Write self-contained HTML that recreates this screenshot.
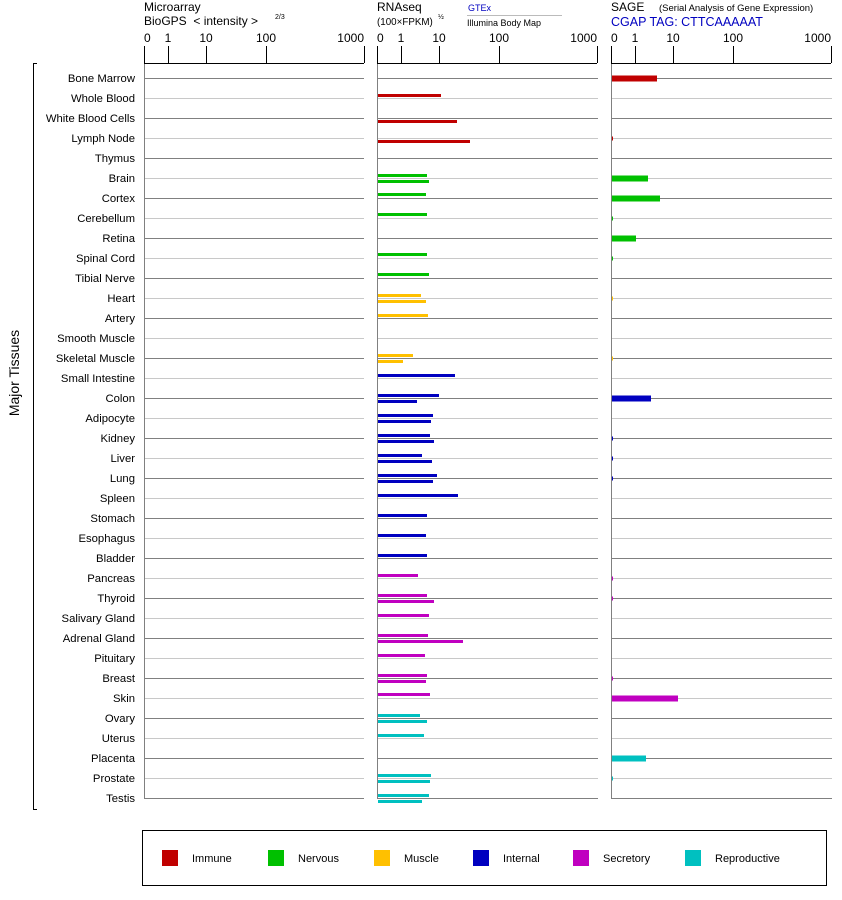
<!DOCTYPE html>
<html><head><meta charset="utf-8"><style>
body{margin:0;background:#fff}
svg{display:block;font-family:"Liberation Sans",Arial,sans-serif}
</style></head><body>
<svg id="s" width="842" height="900" xmlns="http://www.w3.org/2000/svg"></svg>
<script>
const C={R:"#c00000",G:"#00c000",Y:"#ffc000",B:"#0000c0",M:"#c000c0",T:"#00c0c0"};
const rows=[
["Bone Marrow","R",[],657],["Whole Blood","R",[[-3,441]],0],["White Blood Cells","R",[[3,457]],0],["Lymph Node","R",[[3,470]],613],
["Thymus","R",[],0],["Brain","G",[[-3,427],[3,429]],648],["Cortex","G",[[-4,426]],660],["Cerebellum","G",[[-4,427]],613],
["Retina","G",[],636],["Spinal Cord","G",[[-4,427]],613],["Tibial Nerve","G",[[-4,429]],0],["Heart","Y",[[-3,421],[3,426]],613],
["Artery","Y",[[-3,428]],0],["Smooth Muscle","Y",[],0],["Skeletal Muscle","Y",[[-3,413],[3,403]],613],["Small Intestine","B",[[-3,455]],0],
["Colon","B",[[-3,439],[3,417]],651],["Adipocyte","B",[[-3,433],[3,431]],0],["Kidney","B",[[-3,430],[3,434]],613],["Liver","B",[[-3,422],[3,432]],613],
["Lung","B",[[-3,437],[3,433]],613],["Spleen","B",[[-3,458]],0],["Stomach","B",[[-3,427]],0],["Esophagus","B",[[-3,426]],0],
["Bladder","B",[[-3,427]],0],["Pancreas","M",[[-3,418]],613],["Thyroid","M",[[-3,427],[3,434]],613],["Salivary Gland","M",[[-3,429]],0],
["Adrenal Gland","M",[[-3,428],[3,463]],0],["Pituitary","M",[[-3,425]],0],["Breast","M",[[-3,427],[3,426]],613],["Skin","M",[[-4,430]],678],
["Ovary","T",[[-3,420],[3,427]],0],["Uterus","T",[[-3,424]],0],["Placenta","T",[],646],["Prostate","T",[[-3,431],[3,430]],613],["Testis","T",[[-3,429],[3,422]],0]];
let h="";
const P=[144,377,611],W=[220,221,221];
rows.forEach((r,i)=>{const y=78+20*i;const col=i%2==0?"#808080":"#c8c8c8";
 h+=`<text x="135" y="${y+4}" font-size="11.3" text-anchor="end">${r[0]}</text>`;
 P.forEach((p,k)=>h+=`<line x1="${p}" x2="${p+W[k]}" y1="${y+.5}" y2="${y+.5}" stroke="${col}"/>`);
 r[2].forEach(b=>h+=`<rect x="378" y="${y+b[0]-1}" width="${b[1]-378}" height="3" fill="${C[r[1]]}"/>`);
 if(r[3]){const big=r[3]>620;h+=`<rect x="612" y="${y-(big?2.5:1.5)}" width="${r[3]-612}" height="${big?6:4}" fill="${C[r[1]]}"/>`;}
});
P.forEach(p=>{
 h+=`<line x1="${p+.5}" x2="${p+.5}" y1="63" y2="799" stroke="#808080"/>`;
 h+=`<line x1="${p}" x2="${p+220}" y1="63.5" y2="63.5" stroke="#000"/>`;
 [[0,"0"],[24,"1"],[62,"10"],[122,"100"],[220,"1000"]].forEach(t=>{
  h+=`<line x1="${p+t[0]+.5}" x2="${p+t[0]+.5}" y1="46" y2="63" stroke="#000"/>`;
  h+=`<text x="${p+t[0]}" y="42" font-size="12" text-anchor="${t[1]=="0"?"start":t[1]=="1000"?"end":"middle"}">${t[1]}</text>`;});
});
h+=`<text x="144" y="11" font-size="12">Microarray</text><text x="144" y="25" font-size="12">BioGPS &#160;&lt; intensity &gt;</text><text x="275" y="19" font-size="7">2/3</text>`;
h+=`<text x="377" y="11" font-size="12">RNAseq</text><text x="377" y="25" font-size="9.8">(100×FPKM)</text><text x="438" y="19" font-size="7">½</text>`;
h+=`<text x="468" y="11" font-size="9" fill="#0000c0">GTEx</text><line x1="467" x2="562" y1="15.5" y2="15.5" stroke="#bbb"/><text x="467" y="26" font-size="9">Illumina Body Map</text>`;
h+=`<text x="611" y="11" font-size="12">SAGE</text><text x="659" y="11" font-size="9.5">(Serial Analysis of Gene Expression)</text>`;
h+=`<text x="611" y="26" font-size="12.5" fill="#0000c0">CGAP TAG: CTTCAAAAAT</text>`;
h+=`<path d="M37 63.5H33.5V809.5H37" fill="none" stroke="#000"/>`;
h+=`<text transform="translate(19,373) rotate(-90)" font-size="14" text-anchor="middle">Major Tissues</text>`;
h+=`<rect x="142.5" y="830.5" width="684" height="55" fill="none" stroke="#000"/>`;
[["R","Immune",162],["G","Nervous",268],["Y","Muscle",374],["B","Internal",473],["M","Secretory",573],["T","Reproductive",685]].forEach(l=>{
 h+=`<rect x="${l[2]}" y="850" width="16" height="16" fill="${C[l[0]]}"/><text x="${l[2]+30}" y="862" font-size="11">${l[1]}</text>`;});
document.getElementById("s").innerHTML=h;
</script>
</body></html>
